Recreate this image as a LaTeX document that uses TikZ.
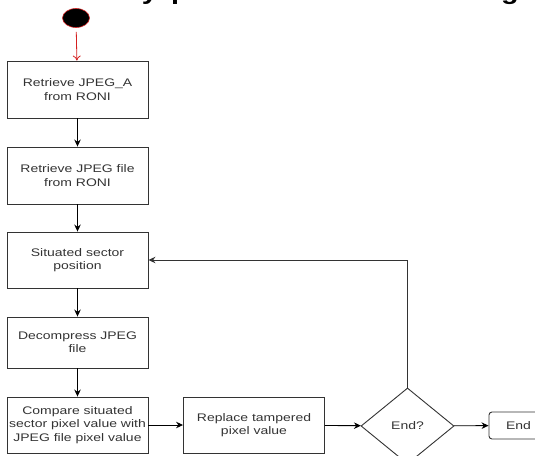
\documentclass[tikz,border=0pt]{standalone}
\usepackage{fontspec}
\usetikzlibrary{arrows.meta,shapes.geometric}
\newfontfamily\lbl[FakeStretch=1.27]{Liberation Sans}
\newfontfamily\ttl[FakeStretch=1.2]{Liberation Sans Bold}
\definecolor{ink}{HTML}{333333}
\definecolor{startred}{HTML}{D42020}
\tikzset{
  box/.style={draw=ink, line width=0.9pt, minimum width=141pt, minimum height=56pt,
    inner sep=1pt, align=center, text=ink, font=\lbl\fontsize{11}{13.3}\selectfont},
  decision/.style={draw=ink, line width=0.9pt, diamond, aspect=1.22, minimum width=93pt,
    minimum height=76pt, inner sep=0pt, text=ink, font=\lbl\fontsize{11}{13.3}\selectfont},
  endbox/.style={draw=ink, line width=0.9pt, rounded corners=3pt, minimum width=59pt,
    minimum height=27pt, text=ink, font=\lbl\fontsize{11}{13.3}\selectfont},
  flow/.style={draw=black, line width=0.9pt, -{Stealth[length=7pt,width=6.5pt]}},
  startflow/.style={draw=startred, line width=0.8pt, -{To[length=5pt,width=8pt]}},
  titlechar/.style={inner sep=0pt, anchor=base, font=\ttl\fontsize{24}{28}\selectfont}
}
\begin{document}
\begin{tikzpicture}[x=1pt,y=-1pt]
\useasboundingbox (0,0) rectangle (535,455);
\begin{scope}
\clip (0,0) rectangle (535,455);
% cut-off title (only descenders visible)
\node[titlechar] (t1) at (150,-1) {y};
\node[titlechar] (t2) at (180,-1) {p};
\node[titlechar] (t3) at (510,-1) {g};

\node[ellipse, fill=black, draw=startred, line width=0.6pt, minimum width=27pt,
  minimum height=19pt, inner sep=0pt] (start) at (76,18) {};
\node[box, minimum height=57pt] (b1) at (77.5,89.5) {Retrieve JPEG\_A\\from RONI};
\node[box, minimum height=57pt] (b2) at (77.5,175.5) {Retrieve JPEG file\\from RONI};
\node[box] (b3) at (77.5,260) {Situated sector\\position};
\node[box, minimum height=51pt] (b4) at (77.5,342.5) {Decompress JPEG\\file};
\node[box] (b5) at (77.5,425) {Compare situated\\sector pixel value with\\JPEG file pixel value};
\node[box] (b6) at (254,425) {Replace tampered\\pixel value};
\node[decision] (d) at (407.5,426) {End?};
\node[endbox] (e) at (518.5,425.5) {End};

\draw[startflow, shorten <=4pt] (start) -- (b1);
\draw[flow] (b1) -- (b2);
\draw[flow] (b2) -- (b3);
\draw[flow] (b3) -- (b4);
\draw[flow] (b4) -- (b5);
\draw[flow] (b5) -- (b6);
\draw[flow] (b6) -- (d);
\draw[flow] (d) -- (e);
\draw[flow, draw=ink] (d.north) |- (b3.east);
\end{scope}
\end{tikzpicture}
\end{document}
